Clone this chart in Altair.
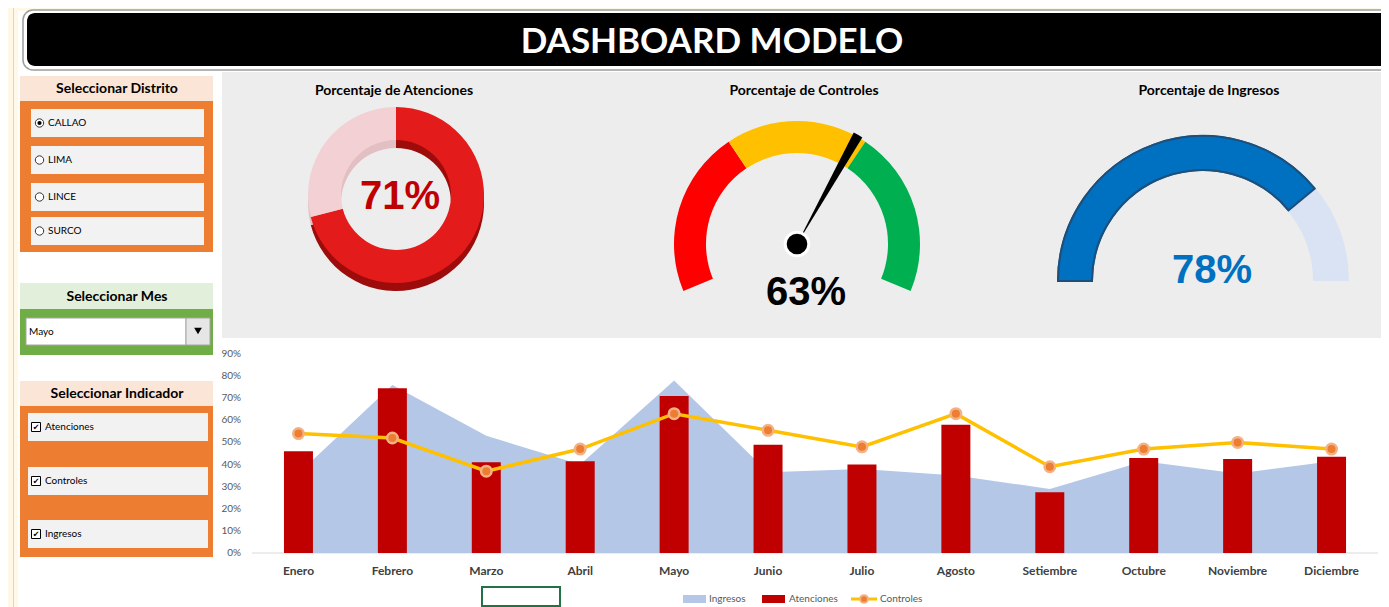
import math
import altair as alt
import pandas as pd

# ---------------- data ----------------
meses = ["Enero", "Febrero", "Marzo", "Abril", "Mayo", "Junio", "Julio",
         "Agosto", "Setiembre", "Octubre", "Noviembre", "Diciembre"]
ingresos = [36, 76, 53, 40, 78, 36.5, 38, 35, 29, 41.5, 36, 41.5]
atenciones = [46, 74.5, 41, 41.5, 71, 49, 40, 58, 27.5, 43, 42.5, 43.5]
controles = [54, 52, 37, 47, 63, 55.5, 48, 63, 39, 47, 50, 47]
ticks_pct = [0, 10, 20, 30, 40, 50, 60, 70, 80, 90]
distritos = ["CALLAO", "LIMA", "LINCE", "SURCO"]
distrito_sel = "CALLAO"
mes_sel = "Mayo"
indicadores = ["Atenciones", "Controles", "Ingresos"]
tramos_nombre = ["Bajo", "Medio", "Alto"]
tramos_valor = [35, 30, 35]
titulo = "DASHBOARD MODELO"
titulos_gauges = ["Porcentaje de Atenciones", "Porcentaje de Controles", "Porcentaje de Ingresos"]
series_leyenda = ["Ingresos", "Atenciones", "Controles"]
paneles = ["Seleccionar Distrito", "Seleccionar Mes", "Seleccionar Indicador"]

# ---------------- layout helpers ----------------
W, H = 1373, 599
OX, OY = 8, 8
FONT = "Lato"
NUMF = "Liberation Sans"
one = pd.DataFrame({"k": [0]})


def px(x):
    return x - OX


def py(y):
    return y - OY


def box(x1, y1, x2, y2, fill, **kw):
    return alt.Chart(one).mark_rect(fill=fill, **kw).encode(
        x=alt.value(px(x1)), x2=alt.value(px(x2)),
        y=alt.value(py(y1)), y2=alt.value(py(y2)))


def txt(x, y, s, size, color="#000000", weight="normal", align="center", font=FONT, **kw):
    return alt.Chart(one).mark_text(
        text=s, fontSize=size, color=color, fontWeight=weight, align=align,
        baseline="middle", font=font, **kw).encode(x=alt.value(px(x)), y=alt.value(py(y)))


def dot(x, y, size, **kw):
    return alt.Chart(one).mark_point(size=size, opacity=1, **kw).encode(
        x=alt.value(px(x)), y=alt.value(py(y)))


layers = []

# spreadsheet background strips
layers.append(box(0, 0, 18, 607, "#FFF8E6"))
layers.append(box(0, 0, 1389, 11, "#FFF8E6"))
layers.append(box(13, 0, 14, 607, "#D6D6D6"))

# title bar
layers.append(box(23, 10, 1400, 70, "#FFFFFF", stroke="#9C9C9C", strokeWidth=1.5, cornerRadius=10))
layers.append(box(27, 13, 1400, 66, "#000000", cornerRadius=8))
layers.append(txt(712, 42, titulo, 35, "#FFFFFF", "bold"))

# grey gauge panel
layers.append(box(222, 72, 1400, 338, "#EDEDED"))

# ---- left panel 1 : districts
layers.append(box(20, 76, 213, 101, "#FBE5D6"))
layers.append(box(20, 101, 213, 252, "#ED7D31"))
layers.append(txt(117, 89, paneles[0], 14, "#000000", "bold"))
slots_d = [(109, 137), (146, 174), (183, 211), (217, 245)]
for name, (a, b) in zip(distritos, slots_d):
    m = (a + b) / 2
    layers.append(box(31, a, 204, b, "#F2F2F2"))
    layers.append(dot(39.5, m, 70, shape="circle", filled=True, fill="#FFFFFF", stroke="#333333", strokeWidth=1))
    if name == distrito_sel:
        layers.append(dot(39.5, m, 18, shape="circle", filled=True, fill="#000000"))
    layers.append(txt(48, m, name, 10, "#000000", align="left"))

# ---- left panel 2 : month
layers.append(box(20, 283, 213, 309, "#E2EFDA"))
layers.append(box(20, 309, 213, 355, "#70AD47"))
layers.append(txt(117, 297, paneles[1], 14, "#000000", "bold"))
layers.append(box(26, 318, 186, 345, "#FFFFFF", stroke="#A6A6A6", strokeWidth=1))
layers.append(box(186, 318, 210, 345, "#E6E6E6", stroke="#A6A6A6", strokeWidth=1))
layers.append(dot(198, 331, 60, shape="triangle-down", filled=True, fill="#000000"))
layers.append(txt(29, 332, mes_sel, 10, "#000000", align="left"))

# ---- left panel 3 : indicators
layers.append(box(20, 381, 213, 406, "#FBE5D6"))
layers.append(box(20, 406, 213, 557, "#ED7D31"))
layers.append(txt(117, 394, paneles[2], 14, "#000000", "bold"))
slots_i = [(413, 441), (467, 495), (520, 548)]
for name, (a, b) in zip(indicadores, slots_i):
    m = (a + b) / 2
    layers.append(box(28, a, 208, b, "#F2F2F2"))
    layers.append(box(31.5, m - 4.5, 40.5, m + 4.5, "#FFFFFF", stroke="#000000", strokeWidth=1))
    layers.append(txt(36, m + 0.5, "\u2714", 8, "#000000", font="DejaVu Sans"))
    layers.append(txt(45, m, name, 10, "#000000", align="left"))

# ---- gauge titles
for t, cx in zip(titulos_gauges, [394, 804, 1209]):
    layers.append(txt(cx, 91, t, 14, "#000000", "bold"))

i_sel = meses.index(mes_sel)
v_at, v_co, v_in = atenciones[i_sel], controles[i_sel], ingresos[i_sel]

# ---- donut (Atenciones)
don_df = pd.DataFrame({"parte": ["Logrado", "Resto"], "v": [v_at, 100 - v_at], "o": [0, 1]})


def donut(colors, cy, outer, inner):
    return alt.Chart(don_df).mark_arc(outerRadius=outer, innerRadius=inner).encode(
        theta=alt.Theta("v:Q", stack=True, scale=alt.Scale(domain=[0, 100], range=[0, 2 * math.pi])),
        order=alt.Order("o:Q"),
        color=alt.Color("parte:N", scale=alt.Scale(domain=["Logrado", "Resto"], range=colors), legend=None),
        x=alt.value(px(396)), y=alt.value(py(cy)))


layers.append(donut(["#9E0B0B", "#E2BFC2"], 203, 88, 55))
layers.append(donut(["#E31B1B", "#F2D0D3"], 195, 88, 55))
layers.append(txt(400, 197, f"{v_at}%", 40, "#C00000", "bold", font=NUMF))

# ---- speedometer (Controles)
G2 = math.radians(112.5)
sem_df = pd.DataFrame({"tramo": tramos_nombre, "v": tramos_valor, "o": [0, 1, 2]})
layers.append(alt.Chart(sem_df).mark_arc(outerRadius=123, innerRadius=91).encode(
    theta=alt.Theta("v:Q", stack=True, scale=alt.Scale(domain=[0, 100], range=[-G2, G2])),
    order=alt.Order("o:Q"),
    color=alt.Color("tramo:N", scale=alt.Scale(domain=tramos_nombre, range=["#FF0000", "#FFC000", "#00B050"]), legend=None),
    x=alt.value(px(797)), y=alt.value(py(244))))
ndl_df = pd.DataFrame({"a": [v_co - 1], "b": [v_co + 1]})
layers.append(alt.Chart(ndl_df).mark_arc(outerRadius=125, innerRadius=0, color="#000000").encode(
    theta=alt.Theta("a:Q", scale=alt.Scale(domain=[0, 100], range=[-G2, G2])),
    theta2="b:Q",
    x=alt.value(px(797)), y=alt.value(py(244))))
layers.append(dot(797, 244, 560, shape="circle", filled=True, fill="#000000", stroke="#FFFFFF", strokeWidth=3))
layers.append(txt(806, 293, f"{v_co}%", 40, "#000000", "bold", font=NUMF))

# ---- half gauge (Ingresos)
ing_df = pd.DataFrame({"parte": ["Logrado", "Resto"], "v": [v_in, 100 - v_in], "o": [0, 1]})
ing_theta = alt.Theta("v:Q", stack=True, scale=alt.Scale(domain=[0, 100], range=[-math.pi / 2, math.pi / 2]))
layers.append(alt.Chart(ing_df).mark_arc(outerRadius=146, innerRadius=110).encode(
    theta=ing_theta, order=alt.Order("o:Q"),
    color=alt.Color("parte:N", scale=alt.Scale(domain=["Logrado", "Resto"], range=["#0070C0", "#DAE3F3"]), legend=None),
    x=alt.value(px(1203)), y=alt.value(py(281))))
layers.append(alt.Chart(ing_df).transform_filter(alt.datum.parte == "Logrado").mark_arc(
    outerRadius=145, innerRadius=111, fill="#0070C0", fillOpacity=0, stroke="#1F4E79", strokeWidth=2).encode(
    theta=ing_theta, order=alt.Order("o:Q"),
    x=alt.value(px(1203)), y=alt.value(py(281))))
layers.append(txt(1212, 271, f"{v_in}%", 40, "#0070C0", "bold", font=NUMF))

# ---- combo chart
df = pd.DataFrame({"Mes": meses, "Ingresos": ingresos, "Atenciones": atenciones, "Controles": controles})
X_RANGE = [px(251.5), px(1378.5)]
Y_RANGE = [py(553), py(354)]
xenc = alt.X("Mes:N", sort=meses, axis=None,
             scale=alt.Scale(type="band", domain=meses, range=X_RANGE, paddingInner=0, paddingOuter=0))


def yenc(f):
    return alt.Y(f"{f}:Q", axis=None, scale=alt.Scale(domain=[0, 90], range=Y_RANGE, nice=False, zero=True))


layers.append(box(252, 552.5, 1378, 553.5, "#D9D9D9"))
layers.append(alt.Chart(df).mark_area(color="#B4C7E7", opacity=1).encode(x=xenc, y=yenc("Ingresos")))
layers.append(alt.Chart(df).mark_bar(color="#C00000", width=29).encode(x=xenc, y=yenc("Atenciones")))
layers.append(alt.Chart(df).mark_line(color="#FFC000", strokeWidth=3.5).encode(x=xenc, y=yenc("Controles")))
layers.append(alt.Chart(df).mark_circle(size=110, fill="#ED7D31", stroke="#F4B183", strokeWidth=2.5, opacity=1).encode(
    x=xenc, y=yenc("Controles")))

tick_df = pd.DataFrame({"t": ticks_pct, "lab": [f"{t}%" for t in ticks_pct]})
layers.append(alt.Chart(tick_df).mark_text(align="right", baseline="middle", fontSize=10, color="#595959", font=FONT).encode(
    x=alt.value(px(241)), y=yenc("t"), text="lab:N"))
layers.append(alt.Chart(df).mark_text(baseline="middle", fontSize=12, fontWeight="bold", color="#404040", font=FONT).encode(
    x=xenc, y=alt.value(py(571)), text="Mes:N"))

# legend
layers.append(box(683, 595, 706, 603, "#B4C7E7"))
layers.append(txt(709, 599, series_leyenda[0], 10, "#595959", align="left"))
layers.append(box(762, 595, 785, 603, "#C00000"))
layers.append(txt(789, 599, series_leyenda[1], 10, "#595959", align="left"))
layers.append(box(851, 597.5, 877, 600.5, "#FFC000"))
layers.append(dot(864, 599, 60, shape="circle", filled=True, fill="#ED7D31", stroke="#F4B183", strokeWidth=2))
layers.append(txt(880, 599, series_leyenda[2], 10, "#595959", align="left"))

# selected cell
layers.append(box(482, 587, 560, 606, "#FFFFFF", fillOpacity=0, stroke="#217346", strokeWidth=2))

chart = alt.layer(*layers).resolve_scale(theta="independent", color="independent").properties(
    width=W, height=H, autosize=alt.AutoSizeParams(type="none"), padding=0, background="#FFFFFF"
).configure_view(strokeWidth=0)

chart.save("out.html", embed_options={"renderer": "svg", "actions": False})
